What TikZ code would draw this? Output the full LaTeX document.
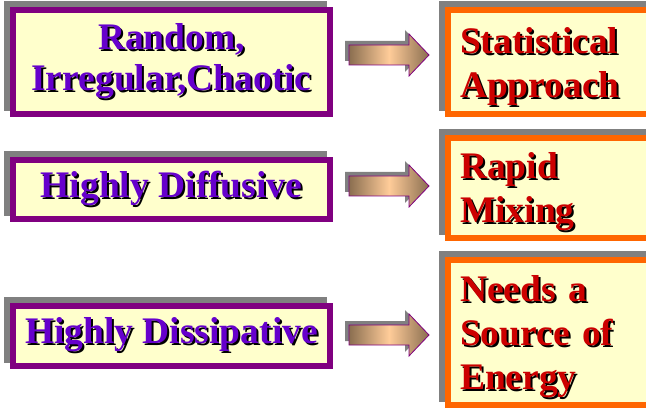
\documentclass[tikz,border=0pt]{standalone}
\usepackage{fontspec}
\setmainfont{Liberation Serif}
\usetikzlibrary{shadows}
\usetikzlibrary{positioning}
\definecolor{boxfill}{HTML}{FFFFCC}
\definecolor{boxpurple}{HTML}{800080}
\definecolor{boxorange}{HTML}{FF6600}
\definecolor{shadowgray}{HTML}{808080}
\definecolor{textviolet}{HTML}{6600CC}
\definecolor{textred}{HTML}{CC0000}
\definecolor{arrowdark}{HTML}{8A6E50}
\definecolor{arrowlight}{HTML}{FFCC99}
\tikzset{boxshadow/.style={general shadow={shadow xshift=-6pt, shadow yshift=6pt, fill=shadowgray, draw=shadowgray, line width=6pt}}}
\tikzstyle{lbox} = [draw=boxpurple, fill=boxfill, line width=6pt, boxshadow, minimum width=317pt, inner sep=4pt, align=center, text=textviolet, font=\fontsize{37.5}{41}\selectfont\bfseries]
\tikzstyle{rbox} = [draw=boxorange, fill=boxfill, line width=6pt, boxshadow, text width=185pt, inner xsep=12pt, inner ysep=4pt, align=left, text=textred, font=\fontsize{37.5}{44}\selectfont\bfseries]
\tikzstyle{arrowline} = [draw=boxpurple, line width=0.8pt]
% text with a black drop shadow
\newcommand{\shd}[1]{\makebox[0pt][l]{\hspace{2pt}\raisebox{-2pt}{\color{black}#1}}#1}
% taller first line, pushes the text down a little
\newcommand{\topstrut}{\rule{0pt}{36pt}}
% block arrow, centred at height #1
\newcommand{\blkarrow}[1]{%
  \begin{scope}[shift={(389,#1)}]
    \fill[shadowgray] (-44,-14) -- (16,-14) -- (16,-25) -- (36,-4) -- (16,17) -- (16,6) -- (-44,6) -- cycle;
    \draw[arrowline, left color=arrowdark, right color=arrowdark, middle color=arrowlight] (-40,-10) -- (20,-10) -- (20,-21) -- (40,0) -- (20,21) -- (20,10) -- (-40,10) -- cycle;
  \end{scope}}

\begin{document}
\begin{tikzpicture}[x=1pt, y=-1pt]
	\fill[white] (0,0) rectangle (646,409);
	\useasboundingbox (0,0) rectangle (646,409);

	\node [lbox, minimum height=104pt] (random) at (171.5,62) {\shd{Random,}\\\shd{Irregular,Chaotic}};
	\node [lbox, minimum height=59pt] (diffusive) at (171.5,189.5) {\shd{Highly Diffusive}};
	\node [lbox, minimum height=60pt] (dissipative) at (171.5,336) {\shd{Highly Dissipative}};

	\node [rbox, minimum height=104pt] (statistical) at (552.5,62) {\topstrut\shd{Statistical}\\\shd{Approach}};
	\node [rbox, minimum height=100pt] (mixing) at (552.5,188) {\topstrut\shd{Rapid}\\\shd{Mixing}};
	\node [rbox, minimum height=145pt] (energy) at (552.5,332.5) {\topstrut\shd{Needs a}\\\shd{Source of}\\\shd{Energy}};

	\blkarrow{55}
	\blkarrow{186}
	\blkarrow{335}
\end{tikzpicture}
\end{document}
